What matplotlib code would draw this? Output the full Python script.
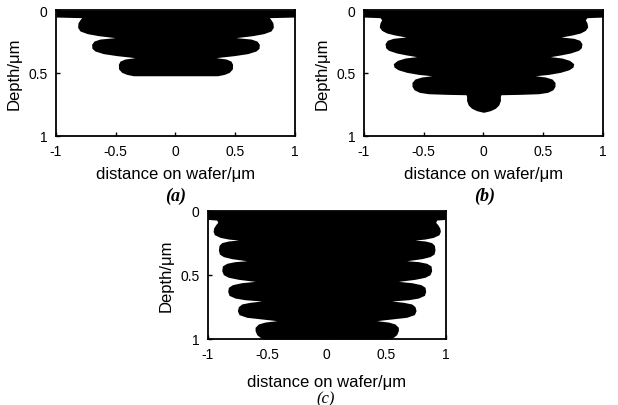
import matplotlib
matplotlib.use("Agg")
import matplotlib.pyplot as plt

plt.rcParams["font.family"] = ["Liberation Sans", "DejaVu Sans"]

# etch profiles: depth (um) and half width of the etched region (um)
depth_a = [0.0, 0.056, 0.061, 0.077, 0.103, 0.138, 0.167, 0.188, 0.204, 0.220,
           0.231, 0.247, 0.273, 0.305, 0.326, 0.347, 0.363, 0.379,
           0.390, 0.406, 0.432, 0.469, 0.496, 0.512, 0.523]
width_a = [1.0, 1.0, 0.785, 0.799, 0.816, 0.819, 0.799, 0.738, 0.646, 0.506,
           0.632, 0.682, 0.702, 0.699, 0.674, 0.604, 0.492, 0.339,
           0.423, 0.464, 0.478, 0.476, 0.450, 0.409, 0.353]

depth_b = [0.0, 0.056, 0.061, 0.077, 0.103, 0.135, 0.162, 0.183, 0.199, 0.215,
           0.225, 0.241, 0.268, 0.300, 0.321, 0.342, 0.358, 0.371,
           0.382, 0.401, 0.427, 0.454, 0.475, 0.496, 0.512, 0.523,
           0.533, 0.549, 0.576, 0.607, 0.634, 0.655, 0.666, 0.671, 0.674,
           0.687, 0.721, 0.756, 0.782, 0.801, 0.814]
width_b = [1.0, 1.0, 0.864, 0.850, 0.864, 0.870, 0.850, 0.808, 0.739, 0.647,
           0.753, 0.803, 0.822, 0.817, 0.792, 0.725, 0.641, 0.558,
           0.655, 0.719, 0.753, 0.747, 0.714, 0.641, 0.544, 0.433,
           0.516, 0.572, 0.597, 0.597, 0.580, 0.536, 0.460, 0.307, 0.146,
           0.141, 0.141, 0.127, 0.099, 0.057, 0.0]

depth_c = [0.0, 0.068, 0.073, 0.091, 0.109, 0.135, 0.161, 0.187, 0.208, 0.221, 0.229,
           0.236, 0.249, 0.270, 0.306, 0.338, 0.358, 0.374, 0.390,
           0.397, 0.410, 0.431, 0.468, 0.499, 0.519, 0.535, 0.551,
           0.561, 0.577, 0.597, 0.629, 0.660, 0.681, 0.694, 0.704,
           0.714, 0.727, 0.748, 0.779, 0.810, 0.831, 0.844, 0.857,
           0.868, 0.883, 0.909, 0.935, 0.966, 0.987, 1.0]
width_c = [1.0, 1.0, 0.924, 0.916, 0.933, 0.950, 0.955, 0.944, 0.896, 0.826, 0.742,
           0.826, 0.882, 0.905, 0.910, 0.902, 0.868, 0.798, 0.672,
           0.770, 0.840, 0.877, 0.882, 0.868, 0.826, 0.742, 0.602,
           0.714, 0.793, 0.826, 0.832, 0.821, 0.770, 0.686, 0.546,
           0.644, 0.714, 0.742, 0.751, 0.737, 0.672, 0.546, 0.420,
           0.518, 0.574, 0.602, 0.602, 0.588, 0.560, 0.532]

xticks = [-1, -0.5, 0, 0.5, 1]
xticklabels = ["-1", "-0.5", "0", "0.5", "1"]
yticks = [0, 0.5, 1]
yticklabels = ["0", "0.5", "1"]


def draw_panel(ax, depth, width, xpad=6):
    neg = [-w for w in width]
    ax.fill_betweenx(depth, neg, width, color="#000000", linewidth=0)
    ax.set_xlim(-1, 1)
    ax.set_ylim(1, 0)
    ax.set_xticks(xticks)
    ax.set_xticklabels(xticklabels)
    ax.set_yticks(yticks)
    ax.set_yticklabels(yticklabels)
    ax.tick_params(direction="in", length=3, width=1, labelsize=10, pad=6)
    for s in ax.spines.values():
        s.set_linewidth(1.3)
        s.set_color("#000000")
    ax.set_xlabel("distance on wafer/\u03bcm", fontsize=12, labelpad=xpad)
    ax.set_ylabel("Depth/\u03bcm", fontsize=12, labelpad=5)


fig = plt.figure(figsize=(6.18, 4.06), dpi=100)

ax1 = fig.add_axes([0.0906, 0.6633, 0.3867, 0.3096])
draw_panel(ax1, depth_a, width_a)

ax2 = fig.add_axes([0.5885, 0.6633, 0.3877, 0.3096])
draw_panel(ax2, depth_b, width_b)

ax3 = fig.add_axes([0.3361, 0.1626, 0.3851, 0.3160])
draw_panel(ax3, depth_c, width_c, xpad=9)

fig.text(176 / 618, 1 - 196 / 406, "(a)", family="Liberation Serif", style="italic",
         weight="bold", fontsize=13, ha="center", va="center")
fig.text(485 / 618, 1 - 196 / 406, "(b)", family="Liberation Serif", style="italic",
         weight="bold", fontsize=13, ha="center", va="center")
fig.text(326 / 618, 1 - 399 / 406, "(c)", family="Liberation Serif", style="italic",
         fontsize=12, ha="center", va="center")

plt.savefig("out.png", dpi=100)
